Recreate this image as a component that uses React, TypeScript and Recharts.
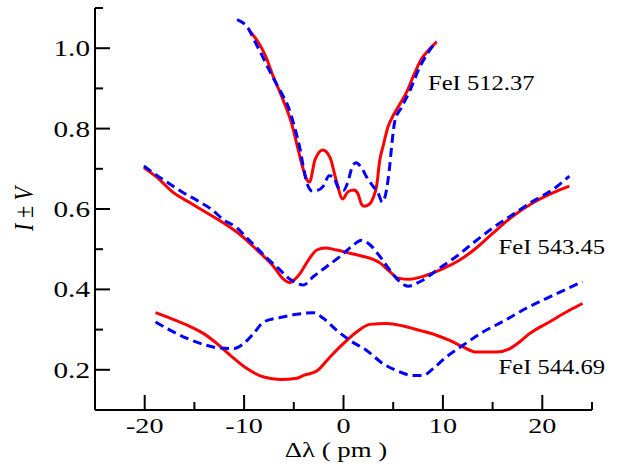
import React from 'react';
import { LineChart, Line, XAxis, YAxis, ReferenceDot, Label } from 'recharts';

// profiles: [delta lambda (pm), I +/- V]
const redTop: [number, number][] = [
  [-9.55, 1.046], [-8.38, 1.007], [-7.87, 0.982], [-7.04, 0.928], [-6.04, 0.869],
  [-5.2, 0.811], [-4.69, 0.761], [-4.19, 0.711], [-3.69, 0.673], [-3.43, 0.667],
  [-2.86, 0.723], [-2.09, 0.747], [-1.35, 0.728], [-0.75, 0.673], [-0.08, 0.625],
  [0.45, 0.643], [1.05, 0.647], [1.45, 0.638], [1.83, 0.611], [2.09, 0.607],
  [2.56, 0.611], [2.99, 0.628], [3.33, 0.657], [3.66, 0.723], [3.99, 0.757],
  [4.46, 0.803], [4.99, 0.832], [5.67, 0.861], [6.34, 0.89], [7.07, 0.933],
  [7.84, 0.973], [8.48, 0.993], [9.35, 1.015],
];
const blueTop: [number, number][] = [
  [-10.71, 1.071], [-9.55, 1.048], [-8.88, 1.015], [-8.2, 0.982], [-7.2, 0.932],
  [-6.37, 0.894], [-5.54, 0.853], [-4.86, 0.798], [-4.36, 0.748], [-4.03, 0.703],
  [-3.63, 0.661], [-3.16, 0.645], [-2.56, 0.647], [-2.03, 0.657], [-1.45, 0.683],
  [-1.05, 0.681], [-0.52, 0.653], [-0.02, 0.646], [0.45, 0.668], [0.85, 0.703],
  [1.25, 0.715], [1.83, 0.702], [2.36, 0.678], [2.99, 0.656], [3.46, 0.641],
  [3.91, 0.617], [4.33, 0.648], [4.61, 0.698], [4.83, 0.753], [5.17, 0.819],
  [5.84, 0.853], [6.67, 0.894], [7.67, 0.953], [8.48, 0.988], [9.35, 1.017],
];
const redMid: [number, number][] = [
  [-20.08, 0.703], [-18.74, 0.678], [-17.07, 0.64], [-15.4, 0.615], [-13.72, 0.59],
  [-12.06, 0.565], [-10.38, 0.536], [-8.71, 0.498], [-7.04, 0.457], [-6.07, 0.426],
  [-5.42, 0.417], [-4.86, 0.426], [-4.36, 0.44], [-3.53, 0.473], [-2.69, 0.498],
  [-1.86, 0.503], [-0.68, 0.498], [0.65, 0.49], [1.99, 0.482], [2.86, 0.476],
  [3.66, 0.466], [4.66, 0.444], [5.5, 0.428], [6.67, 0.425], [7.67, 0.43],
  [9.68, 0.448], [11.69, 0.473], [13.36, 0.503], [15.03, 0.54], [17.03, 0.582],
  [19.04, 0.615], [21.04, 0.64], [22.72, 0.657],
];
const blueMid: [number, number][] = [
  [-20.08, 0.707], [-18.74, 0.683], [-17.4, 0.661], [-16.07, 0.64], [-14.56, 0.619],
  [-13.22, 0.598], [-12.06, 0.573], [-10.71, 0.553], [-9.71, 0.528], [-8.71, 0.503],
  [-7.7, 0.478], [-6.37, 0.448], [-5.54, 0.428], [-5.04, 0.42], [-4.03, 0.411],
  [-3.03, 0.432], [-1.69, 0.457], [-0.35, 0.482], [0.82, 0.507], [1.83, 0.522],
  [2.66, 0.511], [3.66, 0.482], [4.66, 0.448], [5.67, 0.419], [6.5, 0.408],
  [7.67, 0.419], [9.68, 0.453], [11.35, 0.482], [13.02, 0.515], [15.03, 0.553],
  [17.03, 0.586], [19.04, 0.619], [21.04, 0.648], [22.72, 0.682],
];
const redLow: [number, number][] = [
  [-18.91, 0.342], [-17.4, 0.328], [-15.73, 0.311], [-14.06, 0.29], [-12.72, 0.265],
  [-11.38, 0.236], [-9.71, 0.203], [-8.04, 0.182], [-6.37, 0.176], [-4.69, 0.179],
  [-4.03, 0.186], [-2.69, 0.197], [-1.35, 0.232], [-0.02, 0.265], [1.32, 0.294],
  [2.66, 0.313], [4.33, 0.315], [6.0, 0.309], [7.67, 0.298], [9.35, 0.286],
  [10.68, 0.273], [12.02, 0.257], [13.36, 0.244], [15.37, 0.244], [16.7, 0.252],
  [17.7, 0.269], [18.71, 0.29], [20.71, 0.319], [22.72, 0.348], [24.05, 0.365],
];
const blueLow: [number, number][] = [
  [-18.91, 0.319], [-17.4, 0.298], [-15.73, 0.278], [-14.06, 0.263], [-12.39, 0.254],
  [-11.05, 0.253], [-10.05, 0.265], [-9.05, 0.29], [-8.04, 0.319], [-6.37, 0.33],
  [-4.69, 0.338], [-3.03, 0.342], [-2.03, 0.328], [-0.68, 0.298], [0.65, 0.273],
  [2.33, 0.248], [3.99, 0.215], [5.34, 0.198], [7.0, 0.186], [8.0, 0.186],
  [9.01, 0.203], [10.35, 0.232], [12.02, 0.261], [14.02, 0.294], [16.03, 0.32],
  [18.38, 0.353], [20.71, 0.381], [24.05, 0.419],
];

const xTicks = [-25, -20, -15, -10, -5, 0, 5, 10, 15, 20, 25];
const yTicks = [0.1, 0.2, 0.3, 0.4, 0.5, 0.6, 0.7, 0.8, 0.9, 1.0, 1.1];

const lineLabels = [
  { text: 'FeI 512.37', x: 8.5, y: 0.897 },
  { text: 'FeI 543.45', x: 15.6, y: 0.488 },
  { text: 'FeI 544.69', x: 15.6, y: 0.19 },
];

const SERIF = '"Liberation Serif", "DejaVu Serif", serif';

const toRows = (pts: [number, number][]) => pts.map(([x, y]) => ({ x, y }));

const XTick = (props: any) => {
  const { x, y, payload } = props;
  const v = payload.value;
  const major = v % 10 === 0;
  return (
    <g>
      <line x1={x} x2={x} y1={y} y2={y - (major ? 15 : 8)} stroke="#000" strokeWidth={2} />
      {major && (
        <text
          transform={`translate(${x},${y + 23}) scale(1.28,1)`}
          textAnchor="middle"
          fontSize={22}
          fontFamily={SERIF}
          fill="#000"
        >
          {String(v)}
        </text>
      )}
    </g>
  );
};

const YTick = (props: any) => {
  const { x, y, payload } = props;
  const v = payload.value;
  const major = Math.round(v * 10) % 2 === 0;
  return (
    <g>
      <line x1={x} x2={x + (major ? 15 : 8)} y1={y} y2={y} stroke="#000" strokeWidth={2} />
      {major && (
        <text
          transform={`translate(${x - 5},${y + 8}) scale(1.27,1)`}
          textAnchor="end"
          fontSize={23}
          fontFamily={SERIF}
          fill="#000"
        >
          {v.toFixed(1)}
        </text>
      )}
    </g>
  );
};

const LineTag = (props: any) => {
  const { viewBox, text } = props;
  return (
    <text
      transform={`translate(${viewBox.x},${viewBox.y}) scale(1.23,1)`}
      fontSize={20}
      fontFamily={SERIF}
      fill="#000"
    >
      {text}
    </text>
  );
};

export default function App() {
  return (
    <div style={{ position: 'absolute', left: 0, top: 0, background: '#fff' }}>
      <LineChart width={617} height={466} margin={{ top: 8, right: 25, bottom: 0, left: 0 }}>
        <XAxis
          type="number"
          dataKey="x"
          domain={[-25, 25]}
          ticks={xTicks}
          interval={0}
          allowDataOverflow
          height={56}
          tickSize={0}
          tickMargin={0}
          tickLine={false}
          axisLine={{ stroke: '#000', strokeWidth: 2 }}
          tick={<XTick />}
        >
          <Label
            content={() => (
              <text
                transform="translate(336,457) scale(1.22,1)"
                textAnchor="middle"
                fontSize={22}
                fontFamily={SERIF}
                fill="#000"
              >
                Δλ ( pm )
              </text>
            )}
          />
        </XAxis>
        <YAxis
          type="number"
          domain={[0.1, 1.1]}
          ticks={yTicks}
          interval={0}
          allowDataOverflow
          width={95}
          tickSize={0}
          tickMargin={0}
          tickLine={false}
          axisLine={{ stroke: '#000', strokeWidth: 2 }}
          tick={<YTick />}
        >
          <Label
            content={() => (
              <text
                transform="translate(33,209) scale(1.25,1) rotate(-90)"
                textAnchor="middle"
                fontSize={22}
                fontFamily={SERIF}
                fill="#000"
              >
                <tspan fontStyle="italic">I</tspan> ± <tspan fontStyle="italic">V</tspan>
              </text>
            )}
          />
        </YAxis>
        {[redTop, redMid, redLow].map((pts, i) => (
          <Line
            key={`r${i}`}
            data={toRows(pts)}
            dataKey="y"
            type="monotone"
            stroke="#ff0000"
            strokeWidth={3}
            dot={false}
            isAnimationActive={false}
          />
        ))}
        {[blueTop, blueMid, blueLow].map((pts, i) => (
          <Line
            key={`b${i}`}
            data={toRows(pts)}
            dataKey="y"
            type="monotone"
            stroke="#0000ff"
            strokeWidth={3}
            strokeDasharray="9 5"
            dot={false}
            isAnimationActive={false}
          />
        ))}
        {lineLabels.map((l) => (
          <ReferenceDot
            key={l.text}
            x={l.x}
            y={l.y}
            r={0}
            fill="none"
            stroke="none"
            label={<LineTag text={l.text} />}
          />
        ))}
      </LineChart>
    </div>
  );
}
